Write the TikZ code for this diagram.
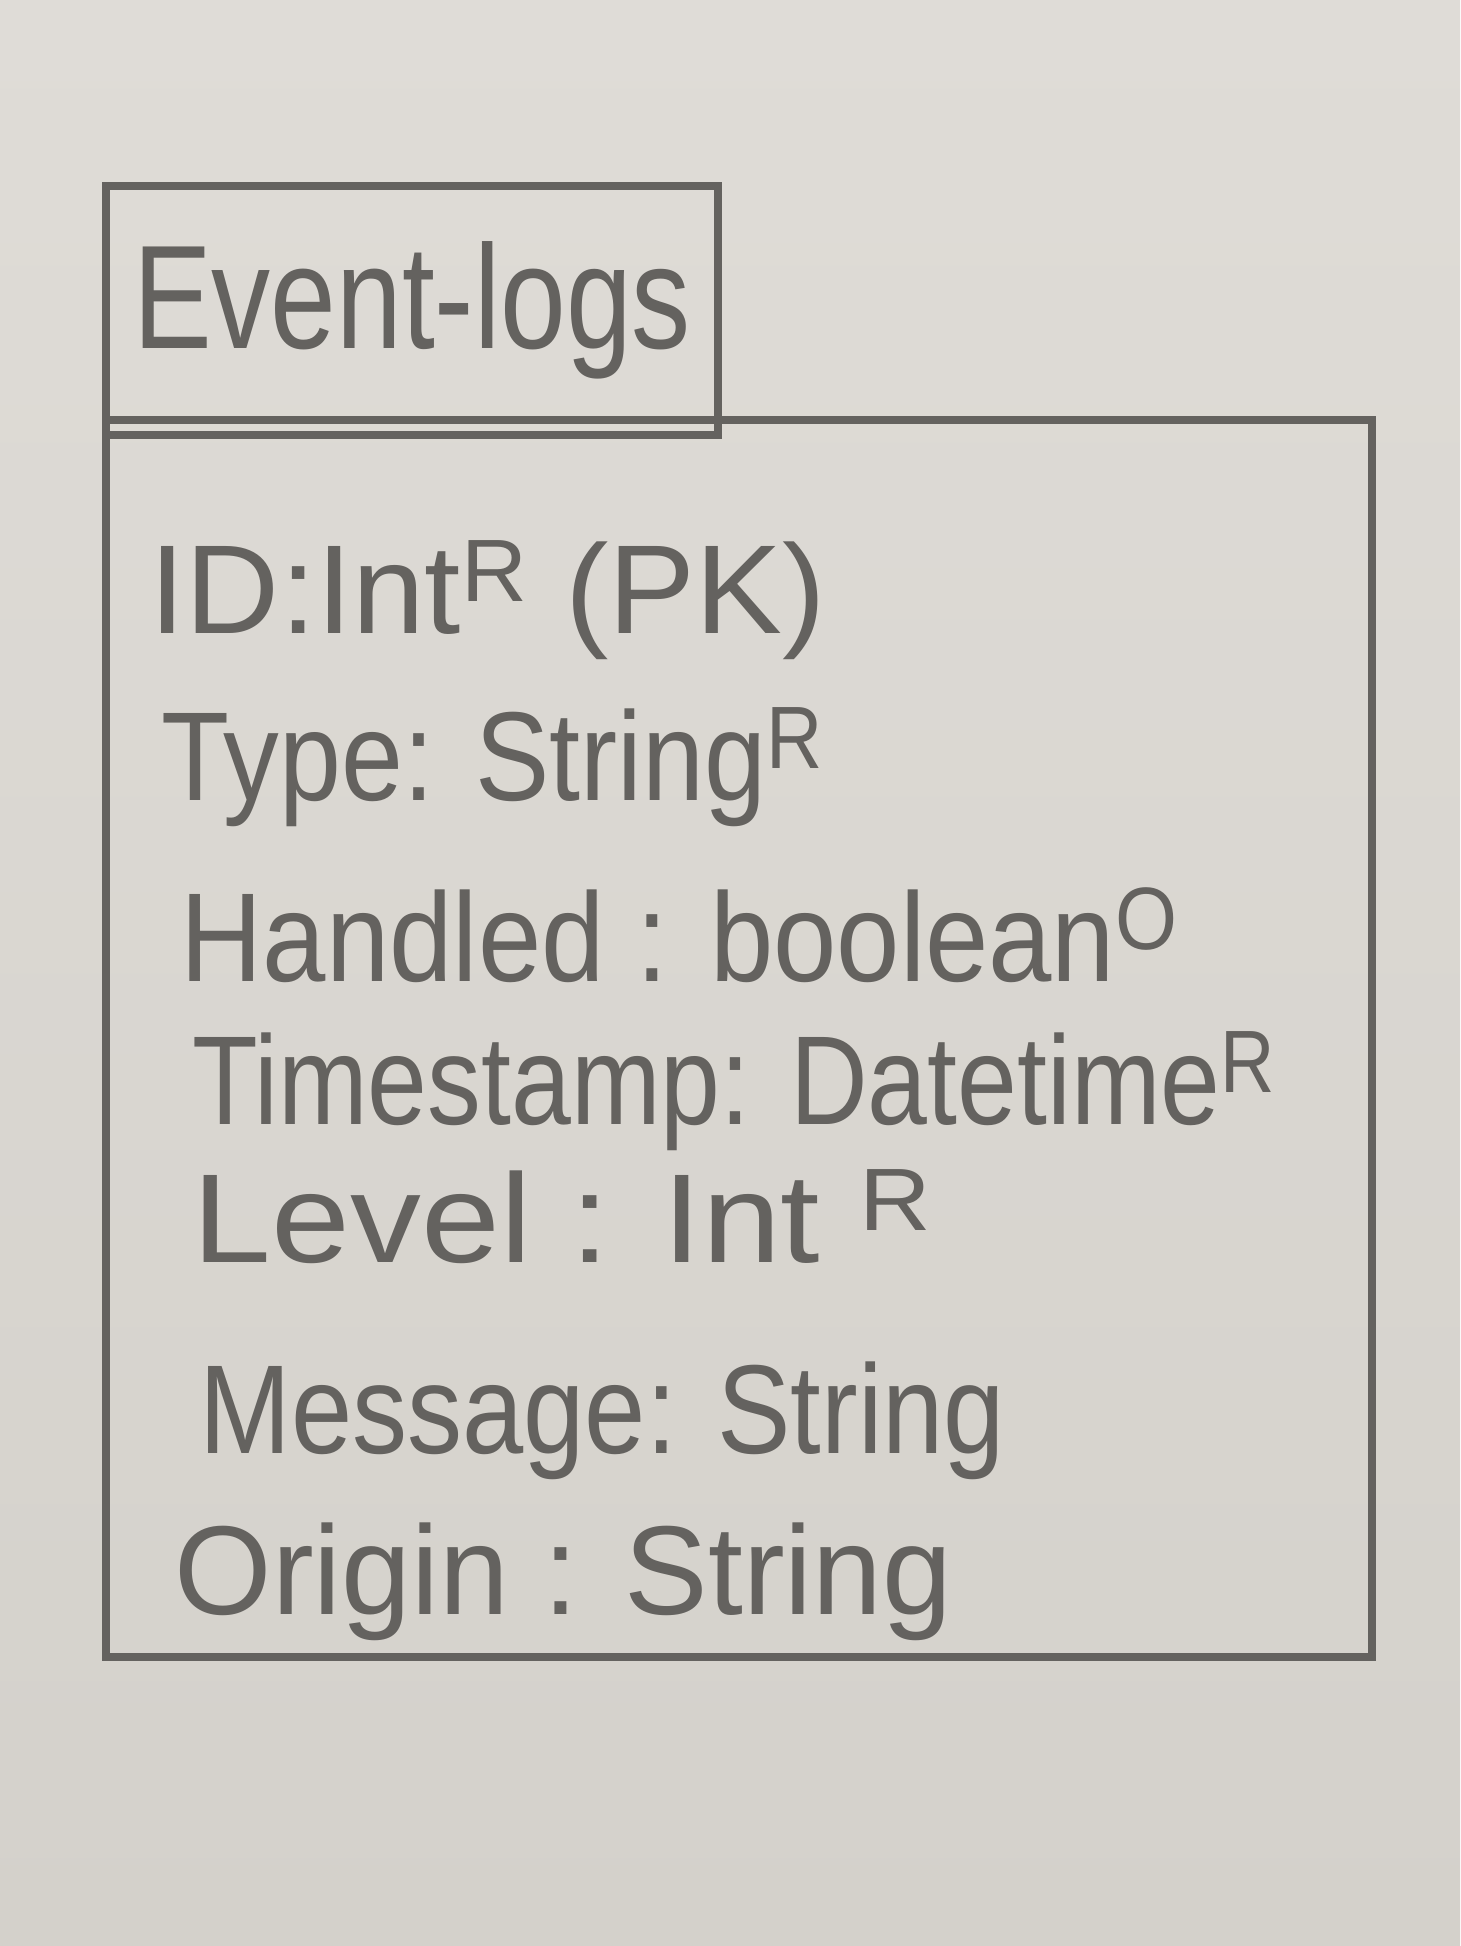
\documentclass[tikz,border=0pt]{standalone}
\usepackage{fontspec}
\setmainfont{Liberation Sans}
\usepackage{xcolor}
\usepackage{graphicx}
\usepackage{tikz}
\usetikzlibrary{positioning}

\definecolor{paper}{HTML}{DFDCD7}
\definecolor{paperdark}{HTML}{D4D1CB}
\definecolor{pencil}{HTML}{64625F}

\begin{document}
\begin{tikzpicture}[
  box/.style={draw=pencil, line width=2.4pt, inner sep=0pt},
  field/.style={anchor=base west, inner sep=0pt, text=pencil, font=\fontsize{36}{40}\selectfont, xscale=#1},
  field/.default=1
]
\shade[top color=paper, bottom color=paperdark] (0,0) rectangle (14.6,-19.46);
\useasboundingbox (0,0) rectangle (14.6,-19.46);
% table body and name tab
\node[box, minimum width=12.66cm, minimum height=12.37cm] (fields) at (7.39,-10.385) {};
\node[box, minimum width=6.12cm, minimum height=2.49cm, text=pencil, font=\fontsize{42}{46}\selectfont] (title) at (4.12,-3.105) {\scalebox{.8}[1]{Event-logs}};
% attributes
\node[field=1.03] (id) at (1.49,-6.33) {ID:Int\textsuperscript{R} (PK)};
\node[field=.88] (type) at (1.61,-8.0) {Type: String\textsuperscript{R}};
\node[field=.9] (handled) at (1.80,-9.81) {Handled : boolean\textsuperscript{O}};
\node[field=.85] (timestamp) at (1.92,-11.24) {Timestamp: Datetime\textsuperscript{R}};
\node[field=1.12] (level) at (1.92,-12.62) {Level : Int \textsuperscript{R}};
\node[field=.87] (message) at (1.99,-14.53) {Message: String};
\node[field=.99] (origin) at (1.74,-16.14) {Origin : String};
\end{tikzpicture}
\end{document}
